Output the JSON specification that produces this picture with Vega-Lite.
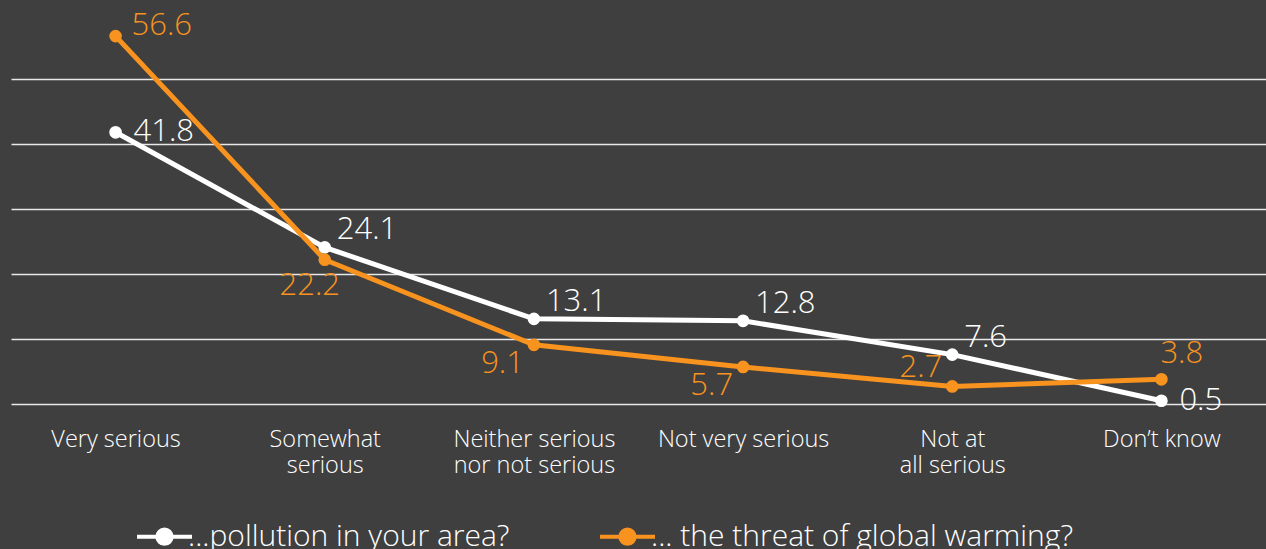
{
  "$schema": "https://vega.github.io/schema/vega-lite/v6.json",
  "width": 1255,
  "height": 390,
  "autosize": "none",
  "padding": {"left": 11, "top": 14, "right": 0, "bottom": 145},
  "background": "#3f3f3f",
  "config": {
    "view": {"stroke": null},
    "font": "Open Sans"
  },
  "data": {
    "values": [
      {"category": "Very serious", "series": "...pollution in your area?", "value": 41.8},
      {"category": "Somewhat\nserious", "series": "...pollution in your area?", "value": 24.1},
      {"category": "Neither serious\nnor not serious", "series": "...pollution in your area?", "value": 13.1},
      {"category": "Not very serious", "series": "...pollution in your area?", "value": 12.8},
      {"category": "Not at\nall serious", "series": "...pollution in your area?", "value": 7.6},
      {"category": "Don’t know", "series": "...pollution in your area?", "value": 0.5},
      {"category": "Very serious", "series": "... the threat of global warming?", "value": 56.6},
      {"category": "Somewhat\nserious", "series": "... the threat of global warming?", "value": 22.2},
      {"category": "Neither serious\nnor not serious", "series": "... the threat of global warming?", "value": 9.1},
      {"category": "Not very serious", "series": "... the threat of global warming?", "value": 5.7},
      {"category": "Not at\nall serious", "series": "... the threat of global warming?", "value": 2.7},
      {"category": "Don’t know", "series": "... the threat of global warming?", "value": 3.8}
    ]
  },
  "encoding": {
    "x": {
      "field": "category",
      "type": "ordinal",
      "sort": ["Very serious", "Somewhat\nserious", "Neither serious\nnor not serious", "Not very serious", "Not at\nall serious", "Don’t know"],
      "scale": {"type": "point", "padding": 0.5},
      "axis": {
        "title": null,
        "domain": false,
        "ticks": false,
        "grid": false,
        "labelAngle": 0,
        "labelColor": "#ffffff",
        "labelFontSize": 23.5,
        "labelFontWeight": 300,
        "labelPadding": 23,
        "labelLineHeight": 26,
        "labelBaseline": "top",
        "labelLimit": 300,
        "labelExpr": "split(datum.label, '\\n')"
      }
    },
    "y": {
      "field": "value",
      "type": "quantitative",
      "scale": {"domain": [0, 60], "nice": false},
      "axis": {
        "title": null,
        "values": [0, 10, 20, 30, 40, 50],
        "labels": false,
        "ticks": false,
        "domain": false,
        "grid": true,
        "gridColor": "#e8e8e8",
        "gridWidth": 1.5
      }
    },
    "color": {
      "field": "series",
      "type": "nominal",
      "scale": {
        "domain": ["...pollution in your area?", "... the threat of global warming?"],
        "range": ["#ffffff", "#f7931e"]
      },
      "legend": {
        "orient": "none",
        "legendX": 124,
        "legendY": 493,
        "direction": "horizontal",
        "title": null,
        "labelColor": "#ffffff",
        "labelFontSize": 30,
        "labelFontWeight": 300,
        "labelOffset": -6,
        "columnPadding": 82,
        "symbolType": "M -1 0 L 1 0 M 0.26 0 A 0.26 0.26 0 1 1 -0.26 0 A 0.26 0.26 0 1 1 0.26 0 Z",
        "symbolSize": 3025,
        "symbolStrokeWidth": 4,
        "labelLimit": 500,
        "encode": {
          "symbols": {
            "update": {
              "fill": {"scale": "color", "field": "value"},
              "stroke": {"scale": "color", "field": "value"},
              "strokeWidth": {"value": 4},
              "strokeOpacity": {"value": 1},
              "fillOpacity": {"value": 1},
              "opacity": {"value": 1}
            }
          }
        }
      }
    }
  },
  "layer": [
    {"mark": {"type": "line", "strokeWidth": 5}},
    {"mark": {"type": "point", "filled": true, "size": 160, "opacity": 1}},
    {
      "transform": [{"filter": "datum.series == '...pollution in your area?' && datum.category != 'Very serious' && datum.category != 'Don’t know'"}],
      "mark": {"type": "text", "align": "left", "baseline": "middle", "dx": 12, "dy": -17, "fontSize": 31, "fontWeight": 300},
      "encoding": {"text": {"field": "value", "type": "quantitative", "format": ".1f"}}
    },
    {
      "transform": [{"filter": "datum.series == '...pollution in your area?' && (datum.category == 'Very serious' || datum.category == 'Don’t know')"}],
      "mark": {"type": "text", "align": "left", "baseline": "middle", "dx": 18, "dy": 0, "fontSize": 31, "fontWeight": 300},
      "encoding": {"text": {"field": "value", "type": "quantitative", "format": ".1f"}}
    },
    {
      "transform": [{"filter": "datum.series == '... the threat of global warming?' && datum.category == 'Very serious'"}],
      "mark": {"type": "text", "align": "left", "baseline": "middle", "dx": 16, "dy": -10, "fontSize": 31, "fontWeight": 300},
      "encoding": {"text": {"field": "value", "type": "quantitative", "format": ".1f"}}
    },
    {
      "transform": [{"filter": "datum.series == '... the threat of global warming?' && datum.category == 'Somewhat\\nserious'"}],
      "mark": {"type": "text", "align": "center", "baseline": "middle", "dx": -15, "dy": 26, "fontSize": 31, "fontWeight": 300},
      "encoding": {"text": {"field": "value", "type": "quantitative", "format": ".1f"}}
    },
    {
      "transform": [{"filter": "datum.series == '... the threat of global warming?' && (datum.category == 'Not very serious' || datum.category == 'Neither serious\\nnor not serious')"}],
      "mark": {"type": "text", "align": "right", "baseline": "middle", "dx": -10, "dy": 19, "fontSize": 31, "fontWeight": 300},
      "encoding": {"text": {"field": "value", "type": "quantitative", "format": ".1f"}}
    },
    {
      "transform": [{"filter": "datum.series == '... the threat of global warming?' && datum.category == 'Not at\\nall serious'"}],
      "mark": {"type": "text", "align": "right", "baseline": "middle", "dx": -10, "dy": -18, "fontSize": 31, "fontWeight": 300},
      "encoding": {"text": {"field": "value", "type": "quantitative", "format": ".1f"}}
    },
    {
      "transform": [{"filter": "datum.series == '... the threat of global warming?' && datum.category == 'Don’t know'"}],
      "mark": {"type": "text", "align": "left", "baseline": "middle", "dx": -1, "dy": -25, "fontSize": 31, "fontWeight": 300},
      "encoding": {"text": {"field": "value", "type": "quantitative", "format": ".1f"}}
    }
  ]
}
